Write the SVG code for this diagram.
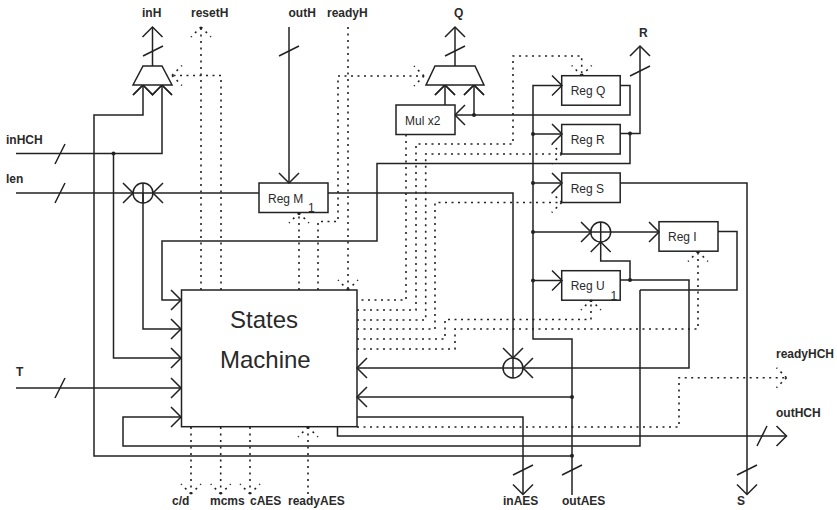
<svg xmlns="http://www.w3.org/2000/svg" width="837" height="510" viewBox="0 0 837 510">
<style>
text{font-family:"Liberation Sans",Arial,sans-serif;fill:#2a2a2a}
.l{font-size:12px;font-weight:bold}
.r{font-size:12px}
.b{font-size:24px}
.s,.d,.n{fill:none;stroke:#222;stroke-width:1.5}
.s{marker-end:url(#a)}
.p{fill:none;stroke:#222;stroke-width:1.5}
.d{stroke-dasharray:2 4.5;stroke-width:1.6}
.t{marker-end:url(#b)}
.h{fill:none;stroke:#222;stroke-width:1.5}
.i{fill:none;stroke:#222;stroke-width:1.6;stroke-dasharray:2 4.5}
.o{fill:#222}
.n{fill:#fff}
marker{overflow:visible}
</style>
<defs>
<marker id="a" markerUnits="userSpaceOnUse" markerWidth="12" markerHeight="22" refX="10" refY="10" orient="auto"><path class="h" d="M0 0L10 10L0 20"/></marker>
<marker id="b" markerUnits="userSpaceOnUse" markerWidth="12" markerHeight="22" refX="10" refY="10" orient="auto"><path class="i" d="M10 10L0 0M10 10L0 20"/></marker>
</defs>
<g id="connectors">
<path class="s" d="M152.500 66V27"/>
<path class="s" d="M455 66V27"/>
<path class="s" d="M572 456H94V115H143V85"/>
<path class="s" d="M16 153.500H162V85"/>
<path class="s" d="M113.500 153.500V358H181"/>
<path class="s" d="M16 193H259M143 193V329H181"/>
<path class="s" d="M16 388H181"/>
<path class="s" d="M640 290V446H123V417H181"/>
<path class="p" d="M718 231.500H737V290H640"/>
<path class="s" d="M630 133.500V163.500H377V241H162V300H181"/>
<path class="s" d="M620 133.500H640V46"/>
<path class="s" d="M289 27V183"/>
<path class="s" d="M328 193H513V358"/>
<path class="s" d="M620 280H689V368H357"/>
<path class="s" d="M630 280V261H600.700V242"/>
<path class="s" d="M533 232H659"/>
<path class="s" d="M572 495V339H533V85.500H562"/>
<path class="s" d="M533 134H562"/>
<path class="s" d="M533 183H562"/>
<path class="s" d="M533 280.500H562"/>
<path class="s" d="M572 397H357"/>
<path class="s" d="M620 85.500H630V115H455"/>
<path class="s" d="M474 115V85"/>
<path class="s" d="M445 105V85"/>
<path class="s" d="M620 183H747V494.500"/>
<path class="s" d="M357 417H523V494.500"/>
<path class="s" d="M337.500 427V436H786.500"/>
<path class="p" d="M123 183L133 193L123 203M163 183L153 193L163 203"/>
<path class="p" d="M533 358L523 368L533 378"/>
<path class="p" d="M581 222L591 232L581 242"/>
<path class="p" d="M133 95L143 85L152.500 95L162 85L172 95"/>
<path class="p" d="M435 95L445 85L455 95M464 95L474 85L484 95"/>
<path class="p" d="M143 56L163 46M445 56L465 46M279 56L299 46M630 76L650 66M55 164L65 144M55 203L65 183M55 398L65 378M513 475L533 465M562 475L582 465M737 475L757 465M757 446L767 426"/>
<path class="d t" d="M201 290V27"/>
<path class="d t" d="M221 290V75.500H172"/>
<path class="d t" d="M348 27V290"/>
<path class="d t" d="M318 290V221.500H338V76H424"/>
<path class="d t" d="M299 290V213"/>
<path class="d" d="M406 134.500V300H357"/>
<path class="d t" d="M357 310H416V144H513V56H581.700V75.500"/>
<path class="d t" d="M357 320H425.700V154H561.700"/>
<path class="d t" d="M357 329H435V202.500H561.700"/>
<path class="d t" d="M357 339H445V319.500H591V300"/>
<path class="d t" d="M357 349H455V329H698V251.500"/>
<path class="d t" d="M357 427H679V377.700H786.500"/>
<path class="d t" d="M191 427V494"/>
<path class="d t" d="M220.700 427V494"/>
<path class="d t" d="M250 427V494"/>
<path class="d t" d="M308 494V427"/>
<g class="o">
<circle cx="113.500" cy="153.500" r="2"/><circle cx="533" cy="134" r="2"/><circle cx="533" cy="183" r="2"/><circle cx="533" cy="232" r="2"/><circle cx="533" cy="280.500" r="2"/><circle cx="572" cy="397" r="2"/><circle cx="572" cy="455.700" r="2"/><circle cx="474" cy="115" r="2"/><circle cx="630" cy="133.500" r="2"/><circle cx="630" cy="280" r="2"/>
</g>
</g>
<g id="mux-inH"><path class="n" d="M143 66H162L172 85H133Z"/></g>
<g id="mux-Q"><path class="n" d="M435 66H475L484 85H426Z"/></g>
<g id="mul"><rect class="n" x="396" y="105" width="59" height="29.500"/><text class="r" x="405" y="125">Mul x2</text></g>
<g id="reg-q"><rect class="p" x="561.700" y="75.700" width="58.500" height="29.500"/><text class="r" x="570.700" y="95">Reg Q</text></g>
<g id="reg-r"><rect class="p" x="561.700" y="124.500" width="58.500" height="29.500"/><text class="r" x="570.700" y="144">Reg R</text></g>
<g id="reg-s"><rect class="p" x="561.700" y="173" width="58.500" height="29.500"/><text class="r" x="570.700" y="192.700">Reg S</text></g>
<g id="reg-u"><rect class="p" x="561.700" y="270.700" width="58.500" height="29.500"/><text class="r" x="570.700" y="290">Reg U</text><text class="r" x="610.500" y="299.500">1</text></g>
<g id="reg-i"><rect class="p" x="659" y="221.700" width="59" height="29.500"/><text class="r" x="668" y="241">Reg I</text></g>
<g id="reg-m"><rect class="p" x="259" y="183" width="69" height="29.500"/><text class="r" x="268" y="203">Reg M</text><text class="r" x="308" y="211.700">1</text></g>
<g id="xor-1"><circle class="p" cx="143" cy="193" r="10"/><path class="p" d="M143 183V203"/></g>
<g id="xor-2"><circle class="p" cx="513" cy="368" r="10"/><path class="p" d="M513 358V378"/></g>
<g id="xor-3"><circle class="p" cx="600.700" cy="232" r="10"/><path class="p" d="M600.700 222V242"/></g>
<g id="fsm"><rect class="p" x="181.500" y="290" width="175.500" height="136.700"/><text class="b" x="230" y="328">States</text><text class="b" x="220" y="367.700">Machine</text></g>
<g id="labels">
<text class="l" x="142" y="17">inH</text>
<text class="l" x="191" y="17">resetH</text>
<text class="l" x="288.500" y="17">outH</text>
<text class="l" x="327" y="17">readyH</text>
<text class="l" x="454" y="17">Q</text>
<text class="l" x="639" y="37">R</text>
<text class="l" x="6" y="144">inHCH</text>
<text class="l" x="6" y="183">len</text>
<text class="l" x="16" y="376">T</text>
<text class="l" x="776" y="358">readyHCH</text>
<text class="l" x="776" y="417">outHCH</text>
<text class="l" x="172" y="505">c/d</text>
<text class="l" x="210" y="505">mcms</text>
<text class="l" x="250" y="505">cAES</text>
<text class="l" x="288" y="505">readyAES</text>
<text class="l" x="503" y="505">inAES</text>
<text class="l" x="562" y="505">outAES</text>
<text class="l" x="737" y="505">S</text>
</g>
</svg>
